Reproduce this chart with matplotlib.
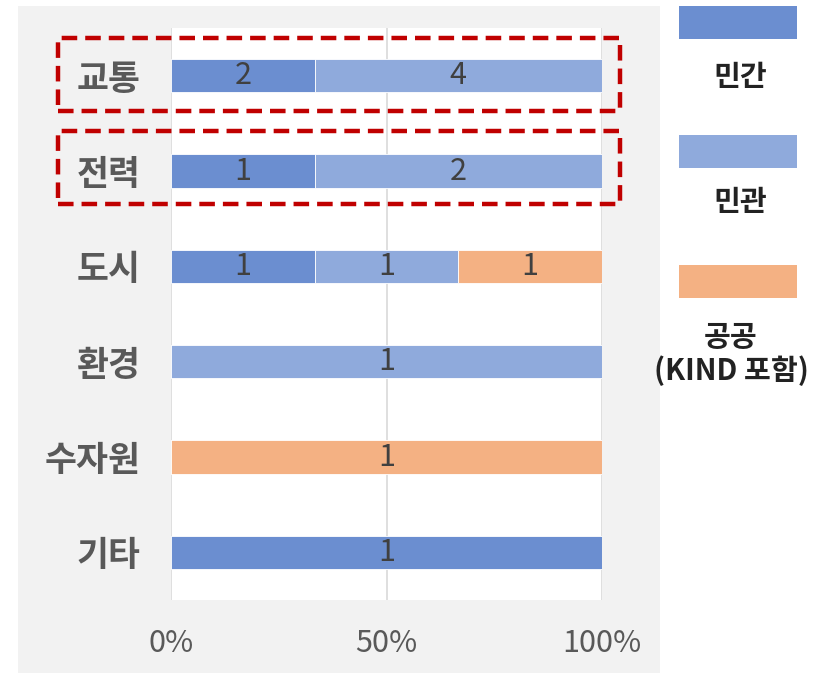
import matplotlib
matplotlib.use("Agg")
import matplotlib.pyplot as plt
from matplotlib.patches import Rectangle
import numpy as np

plt.rcParams['font.family'] = ['Noto Sans CJK KR', 'DejaVu Sans']

categories = ['교통', '전력', '도시', '환경', '수자원', '기타']
series_names = ['민간', '민관', '공공\n(KIND 포함)']
private = [2, 1, 1, 0, 0, 1]
mixed = [4, 2, 1, 1, 0, 0]
public = [0, 0, 1, 0, 1, 0]
colors = ['#6B8ED0', '#8FAADC', '#F4B183']
tick_labels = ['0%', '50%', '100%']

W, H = 824, 673


def fx(px):
    return px / W


def fy(py):
    return 1 - py / H


fig = plt.figure(figsize=(W / 100, H / 100), dpi=100)
fig.patch.set_facecolor('white')

# gray panel behind the chart
fig.patches.append(Rectangle((fx(18), fy(673)), fx(660) - fx(18), fy(6) - fy(673),
                             transform=fig.transFigure, facecolor='#F2F2F2',
                             edgecolor='none', zorder=-5))

ax = fig.add_axes([fx(171), fy(600), fx(602) - fx(171), fy(28) - fy(600)])
ax.set_zorder(1)
ax.set_facecolor('white')

series = [np.array(private, float), np.array(mixed, float), np.array(public, float)]
totals = sum(series)
y = np.arange(len(categories))
left = np.zeros(len(categories))
for vals, col in zip(series, colors):
    share = vals / totals
    ax.barh(y, share, left=left, height=0.35, color=col, edgecolor='white',
            linewidth=0.6, zorder=3)
    for i, (v, s, l) in enumerate(zip(vals, share, left)):
        if v > 0:
            ax.text(l + s / 2, i, f'{int(v)}', ha='center', va='center',
                    fontsize=22, color='#404040', zorder=4)
    left = left + share

ax.set_ylim(len(categories) - 0.5, -0.5)
ax.set_xlim(0, 1)
ax.set_xticks([0, 0.5, 1])
ax.set_xticklabels(tick_labels, fontsize=22, color='#595959')
ax.set_yticks(y)
ax.set_yticklabels(categories, fontsize=25, fontweight='bold', color='#595959')
ax.tick_params(axis='both', length=0)
ax.tick_params(axis='x', pad=20)
ax.tick_params(axis='y', pad=22)
ax.grid(axis='x', color='#D9D9D9', linewidth=1.2, zorder=0)
for sp in ax.spines.values():
    sp.set_visible(False)

# red dashed highlight boxes
for top, bottom in [(38, 111), (131, 204)]:
    fig.patches.append(Rectangle((fx(58), fy(bottom)), fx(620) - fx(58), fy(top) - fy(bottom),
                                 transform=fig.transFigure, facecolor='none',
                                 edgecolor='#C00000', linewidth=3.2,
                                 linestyle=(0, (3.5, 1.8)), zorder=5))

# legend on the right: swatch with label below
legend_tops = [6, 135, 265]
label_x = [740, 740, 731]
label_y = [77, 202, 354]
for name, col, t, lx, ly in zip(series_names, colors, legend_tops, label_x, label_y):
    fig.patches.append(Rectangle((fx(679), fy(t + 33)), fx(797) - fx(679), fy(t) - fy(t + 33),
                                 transform=fig.transFigure, facecolor=col,
                                 edgecolor='none'))
    fig.text(fx(lx), fy(ly), name, ha='center', va='center', fontsize=21,
             fontweight='bold', color='#222222', linespacing=1.15)

fig.savefig('out.png', dpi=100, facecolor=fig.get_facecolor())
